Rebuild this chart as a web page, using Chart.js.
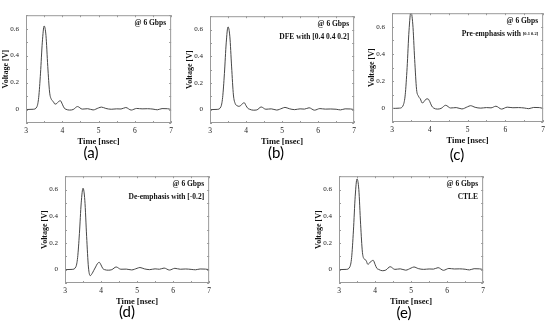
<!DOCTYPE html>
<html>
<head>
<meta charset="utf-8">
<script src="https://cdn.jsdelivr.net/npm/chart.js@4.4.1/dist/chart.umd.min.js"></script>
<style>
  body { margin: 0; background: #fff; width: 550px; height: 327px; position: relative; overflow: hidden; }
  canvas { position: absolute; }
  .lab { position: absolute; font: 15px Lato, sans-serif; line-height: 15px; color: #000; transform: translateX(-50%); }
</style>
</head>
<body>
<script>
// time axis shared by every panel [nsec]
const timeNs = [3.0, 3.2, 3.3, 3.35, 3.4, 3.45, 3.5, 3.55, 3.6, 3.65, 3.7, 3.75, 3.8, 3.85, 3.9, 3.95,
  4.0, 4.05, 4.1, 4.2, 4.3, 4.42, 4.55, 4.7, 4.85, 5.0, 5.08, 5.2, 5.35, 5.5, 5.62, 5.75, 5.9,
  6.05, 6.2, 6.35, 6.5, 6.62, 6.75, 6.9, 7.0];

// voltages [V]
const vNoEq = [0, 0.002, 0.02, 0.09, 0.27, 0.5, 0.62, 0.55, 0.32, 0.13, 0.075, 0.06, 0.04, 0.045, 0.06, 0.065,
  0.04, 0.012, 0.002, -0.004, 0.0, 0.022, 0.003, 0.006, -0.003, 0.012, 0.018, 0.008, 0.002, 0.005, 0.004, 0.015, -0.004,
  0.008, 0.005, 0.006, 0.003, -0.002, 0.007, 0.006, 0.0];
const vDfe = [0, 0.002, 0.02, 0.09, 0.27, 0.5, 0.62, 0.55, 0.32, 0.11, 0.045, 0.03, 0.025, 0.03, 0.045, 0.052,
  0.03, 0.01, 0.003, -0.004, -0.002, 0.02, 0.003, 0.006, -0.003, 0.01, 0.017, 0.007, 0.0, 0.006, 0.004, 0.014, -0.004,
  0.008, 0.004, 0.005, 0.003, -0.002, 0.006, 0.005, 0.0];
const vPreEmph = [0, 0.002, 0.025, 0.1, 0.3, 0.57, 0.71, 0.62, 0.36, 0.14, 0.09, 0.07, 0.04, 0.05, 0.068, 0.07,
  0.05, 0.018, 0.003, -0.005, 0.0, 0.023, 0.003, 0.006, -0.004, 0.012, 0.02, 0.008, 0.002, 0.006, 0.004, 0.016, -0.005,
  0.009, 0.005, 0.006, 0.003, -0.002, 0.007, 0.006, 0.0];
const vDeEmph = [0, 0.002, 0.02, 0.09, 0.27, 0.5, 0.61, 0.52, 0.25, 0.02, -0.045, -0.03, -0.005, 0.02, 0.045, 0.055,
  0.035, 0.008, 0.0, -0.004, 0.0, 0.02, 0.003, 0.004, -0.002, 0.01, 0.016, 0.006, 0.0, 0.006, 0.003, 0.012, -0.003,
  0.01, 0.003, 0.005, 0.002, -0.001, 0.005, 0.004, 0.0];
const vCtle = [0, 0.002, 0.02, 0.09, 0.29, 0.55, 0.68, 0.6, 0.34, 0.13, 0.08, 0.07, 0.04, 0.05, 0.065, 0.07,
  0.04, 0.01, 0.002, -0.008, -0.003, 0.022, 0.002, 0.006, -0.004, 0.012, 0.02, 0.008, 0.002, 0.005, 0.004, 0.015, -0.005,
  0.009, 0.005, 0.006, 0.003, -0.002, 0.007, 0.006, 0.0];

const xTicks = [3, 4, 5, 6, 7];
const yTicks = [0, 0.2, 0.4, 0.6];

// panel placement: plot box [left, top, right, bottom] and sub-caption position
const panels = [
  { values: vNoEq, box: [26, 8, 172, 123], note: [[['@ 6 Gbps', 7.5]]], cap: '(a)', capAt: [91, 145] },
  { values: vDfe, box: [210, 9, 355, 123], note: [[['@ 6 Gbps', 7.5]], [['DFE with [0.4 0.4 0.2]', 7.5]]], cap: '(b)', capAt: [276, 145] },
  { values: vPreEmph, box: [392, 6, 544, 122], note: [[['@ 6 Gbps', 7.5]], [['Pre-emphasis with ', 7.5], ['[0.1 0.2]', 4.5]]], cap: '(c)', capAt: [457, 147] },
  { values: vDeEmph, box: [65, 169, 210, 283], note: [[['@ 6 Gbps', 7.5]], [['De-emphasis with [-0.2]', 7.5]]], cap: '(d)', capAt: [127, 304] },
  { values: vCtle, box: [339, 169, 484, 283], note: [[['@ 6 Gbps', 7.5]], [['CTLE', 7.5]]], cap: '(e)', capAt: [404, 305] }
];

const serif = '"Liberation Serif", "DejaVu Serif", serif';
const yAxisW = 25;

const framePlugin = {
  id: 'frame',
  afterDraw(chart, args, opts) {
    const { ctx, chartArea: a, scales } = chart;
    ctx.save();
    ctx.strokeStyle = '#9a9a9a';
    ctx.lineWidth = 1;
    ctx.strokeRect(a.left + 0.5, a.top + 0.5, a.right - a.left - 1, a.bottom - a.top - 1);
    ctx.beginPath();
    for (let t = 3; t <= 7.001; t += 0.5) {
      const px = Math.round(scales.x.getPixelForValue(t)) + 0.5;
      ctx.moveTo(px, a.bottom); ctx.lineTo(px, a.bottom - 2);
      ctx.moveTo(px, a.top); ctx.lineTo(px, a.top + 2);
    }
    for (let v = -0.1; v <= 0.7001; v += 0.1) {
      const py = Math.round(scales.y.getPixelForValue(v)) + 0.5;
      ctx.moveTo(a.left, py); ctx.lineTo(a.left + 2, py);
      ctx.moveTo(a.right, py); ctx.lineTo(a.right - 2, py);
    }
    ctx.stroke();
    // annotation lines, right aligned
    ctx.fillStyle = '#111';
    ctx.textBaseline = 'middle';
    (opts.lines || []).forEach((segs, i) => {
      let w = 0;
      segs.forEach(([t, s]) => { ctx.font = 'bold ' + s + 'px ' + serif; w += ctx.measureText(t).width; });
      let x = a.right - 5 - w;
      const y = a.top + 8 + i * 13;
      segs.forEach(([t, s]) => {
        ctx.font = 'bold ' + s + 'px ' + serif;
        ctx.textAlign = 'left';
        ctx.fillText(t, x, y);
        x += ctx.measureText(t).width;
      });
    });
    ctx.restore();
  }
};

panels.forEach(p => {
  const [L, T, R, B] = p.box;
  const cv = document.createElement('canvas');
  const w = R - L + yAxisW + 5, h = B - T + 4 + 25;
  cv.width = w; cv.height = h;
  cv.style.left = (L - yAxisW) + 'px';
  cv.style.top = (T - 4) + 'px';
  cv.style.width = w + 'px'; cv.style.height = h + 'px';
  document.body.appendChild(cv);

  const cap = document.createElement('div');
  cap.className = 'lab';
  cap.textContent = p.cap;
  cap.style.left = p.capAt[0] + 'px';
  cap.style.top = p.capAt[1] + 'px';
  document.body.appendChild(cap);

  new Chart(cv, {
    type: 'line',
    data: {
      datasets: [{
        data: timeNs.map((t, i) => ({ x: t, y: p.values[i] })),
        borderColor: '#474747',
        borderWidth: 1,
        pointRadius: 0,
        cubicInterpolationMode: 'monotone',
        fill: false
      }]
    },
    options: {
      responsive: false,
      animation: false,
      devicePixelRatio: 1,
      layout: { padding: { top: 4, right: 5, left: 0, bottom: 0 } },
      plugins: { legend: { display: false }, tooltip: { enabled: false }, frame: { lines: p.note } },
      scales: {
        x: {
          type: 'linear', min: 3, max: 7,
          afterBuildTicks: s => { s.ticks = xTicks.map(v => ({ value: v })); },
          afterFit: s => { s.height = 25; },
          grid: { display: false, drawTicks: false },
          border: { display: false },
          ticks: { padding: 4, color: '#222', font: { family: serif, size: 7.5 }, maxRotation: 0 },
          title: { display: true, text: 'Time [nsec]', color: '#111', padding: { top: 0, bottom: 1 }, font: { family: serif, size: 8.5, weight: 'bold' } }
        },
        y: {
          min: -0.1, max: 0.7,
          afterBuildTicks: s => { s.ticks = yTicks.map(v => ({ value: v })); },
          afterFit: s => { s.width = yAxisW; },
          grid: { display: false, drawTicks: false },
          border: { display: false },
          ticks: { padding: 7, color: '#222', font: { family: serif, size: 7 }, callback: v => String(+v.toFixed(1)) },
          title: { display: true, text: 'Voltage [V]', color: '#111', padding: 0, font: { family: serif, size: 8, weight: 'bold' } }
        }
      }
    },
    plugins: [framePlugin]
  });
});
</script>
</body>
</html>
